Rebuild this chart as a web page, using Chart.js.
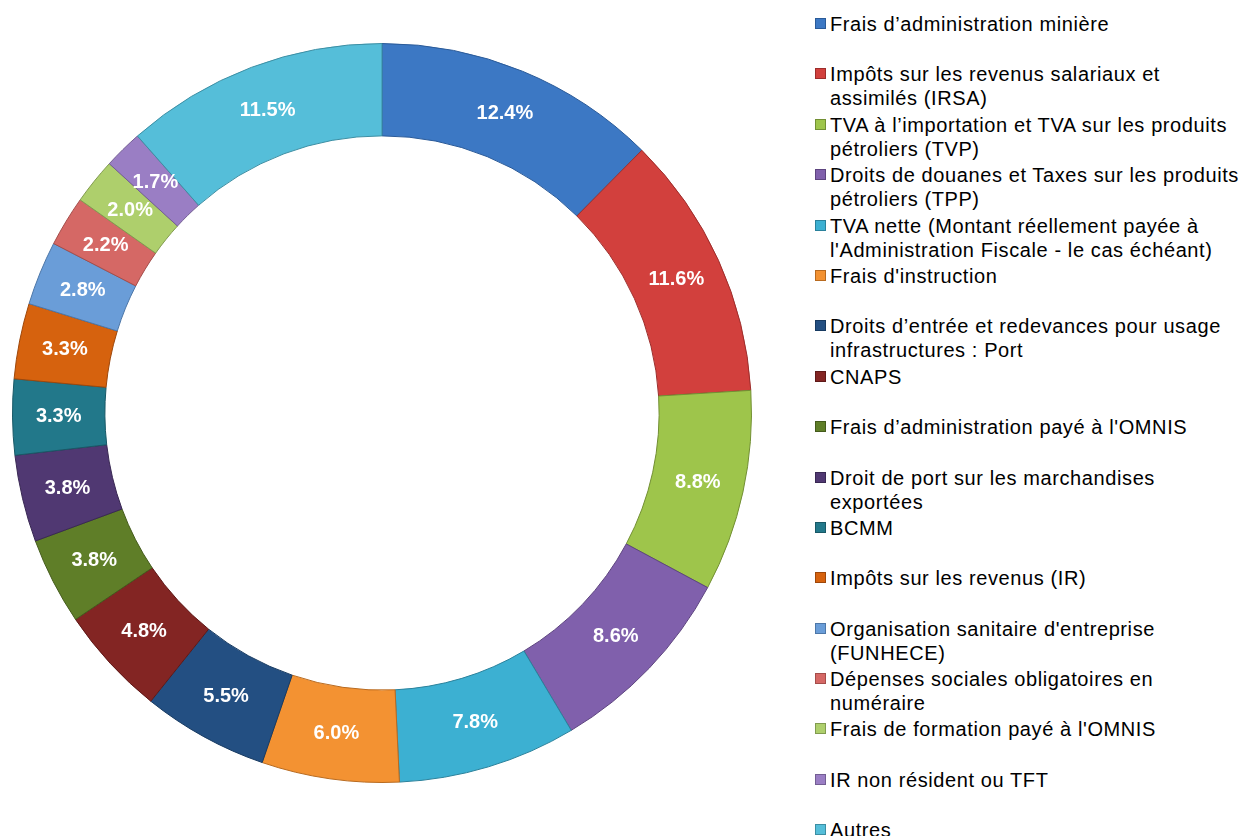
<!DOCTYPE html>
<html>
<head>
<meta charset="utf-8">
<script src="https://cdn.jsdelivr.net/npm/chart.js@4/dist/chart.umd.min.js"></script>
<style>
  html, body { margin:0; padding:0; background:#fff; }
  body { width:1245px; height:836px; position:relative; overflow:hidden; font-family:"Liberation Sans", Arial, sans-serif; }
  #chartBox { position:absolute; left:0; top:0; width:764px; height:836px; }
  #legend { position:absolute; left:815px; top:12px; width:430px; }
  .item { height:50.4px; position:relative; font-size:20px; line-height:24px; letter-spacing:0.6px; color:#000; white-space:nowrap; }
  .sw { position:absolute; left:0; top:6px; width:11px; height:11px; box-sizing:border-box; }
  .txt { position:absolute; left:15px; top:0; }
</style>
</head>
<body>
<div id="chartBox"><canvas id="c"></canvas></div>
<div id="legend"></div>
<script>
const categories = [
  ["Frais d’administration minière"],
  ["Impôts sur les revenus salariaux et", "assimilés (IRSA)"],
  ["TVA à l’importation et TVA sur les produits", "pétroliers (TVP)"],
  ["Droits de douanes et Taxes sur les produits", "pétroliers (TPP)"],
  ["TVA nette (Montant réellement payée à", "l'Administration Fiscale - le cas échéant)"],
  ["Frais d'instruction"],
  ["Droits d’entrée et redevances pour usage", "infrastructures : Port"],
  ["CNAPS"],
  ["Frais d’administration payé à l'OMNIS"],
  ["Droit de port sur les marchandises", "exportées"],
  ["BCMM"],
  ["Impôts sur les revenus (IR)"],
  ["Organisation sanitaire d'entreprise", "(FUNHECE)"],
  ["Dépenses sociales obligatoires en", "numéraire"],
  ["Frais de formation payé à l'OMNIS"],
  ["IR non résident ou TFT"],
  ["Autres"]
];
const shares = [12.4, 11.6, 8.8, 8.6, 7.8, 6.0, 5.5, 4.8, 3.8, 3.8, 3.3, 3.3, 2.8, 2.2, 2.0, 1.7, 11.5];
const sliceColors = [
  "#3C78C4", "#D2403D", "#9EC54B", "#8060AC", "#3CB0D2", "#F39232",
  "#234F82", "#832523", "#5F7E28", "#503872", "#22788A", "#D6620E",
  "#6A9DD8", "#D56865", "#AECF6C", "#9A7EC4", "#55BED9"
];
const borderColors = [
  "#2A5A98", "#9C2D2B", "#728F33", "#5D447F", "#2A819B", "#B86A1F",
  "#173A61", "#5E1918", "#445B1C", "#392853", "#185866", "#9E470A",
  "#4D77A8", "#A44D4A", "#819B4F", "#735E93", "#3C8EA3"
];

const labelPlugin = {
  id: 'sliceLabels',
  afterDatasetsDraw(chart) {
    const ctx = chart.ctx;
    const meta = chart.getDatasetMeta(0);
    ctx.save();
    ctx.font = 'bold 20px "Liberation Sans", Arial, sans-serif';
    ctx.fillStyle = '#ffffff';
    ctx.textAlign = 'center';
    ctx.textBaseline = 'middle';
    meta.data.forEach((arc, i) => {
      const p = arc.getProps(['x','y','startAngle','endAngle','innerRadius','outerRadius'], true);
      const a = (p.startAngle + p.endAngle) / 2;
      const r = (p.innerRadius + p.outerRadius) / 2;
      ctx.fillText(shares[i].toFixed(1) + '%', p.x + Math.cos(a) * r, p.y + Math.sin(a) * r);
    });
    ctx.restore();
  }
};

new Chart(document.getElementById('c'), {
  type: 'doughnut',
  data: {
    labels: categories,
    datasets: [{
      data: shares,
      backgroundColor: sliceColors,
      borderColor: borderColors,
      borderWidth: 1
    }]
  },
  options: {
    responsive: true,
    maintainAspectRatio: false,
    animation: false,
    cutout: '75%',
    layout: { padding: { top: 42, bottom: 52, left: 12, right: 12 } },
    plugins: {
      legend: { display: false },
      tooltip: { enabled: false }
    }
  },
  plugins: [labelPlugin]
});

const leg = document.getElementById('legend');
categories.forEach((lines, i) => {
  const it = document.createElement('div');
  it.className = 'item';
  const sw = document.createElement('div');
  sw.className = 'sw';
  sw.style.background = sliceColors[i];
  sw.style.border = '1px solid ' + borderColors[i];
  const t = document.createElement('div');
  t.className = 'txt';
  t.innerHTML = lines.map(s => s.replace(/&/g,'&amp;').replace(/</g,'&lt;')).join('<br>');
  it.appendChild(sw);
  it.appendChild(t);
  leg.appendChild(it);
});
</script>
</body>
</html>
